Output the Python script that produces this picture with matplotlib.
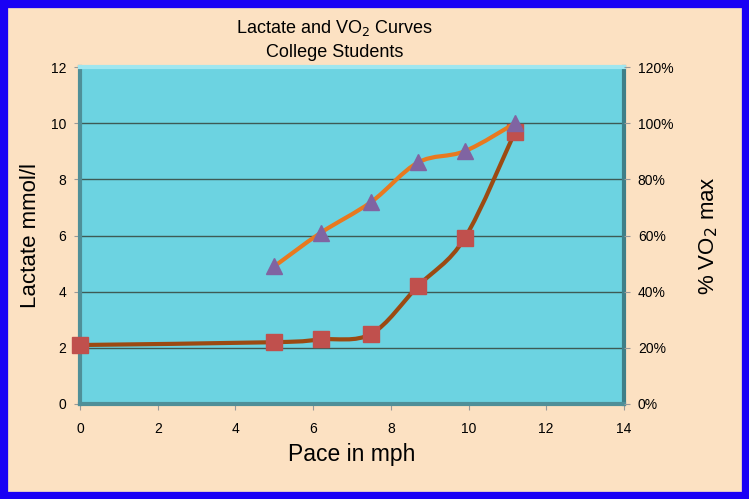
import matplotlib
matplotlib.use("Agg")
import matplotlib.pyplot as plt
from matplotlib.path import Path
from matplotlib.patches import PathPatch, Rectangle
from matplotlib.ticker import FuncFormatter, MultipleLocator

plt.rcParams['font.family'] = ['Liberation Sans', 'DejaVu Sans']

pace_lactate = [0, 5, 6.2, 7.5, 8.7, 9.9, 11.2]
lactate = [2.1, 2.2, 2.3, 2.5, 4.2, 5.9, 9.7]
pace_vo2 = [5, 6.2, 7.5, 8.7, 9.9, 11.2]
vo2_pct = [0.49, 0.61, 0.72, 0.86, 0.90, 1.00]

title = "Lactate and VO$_2$ Curves\nCollege Students"
xlabel = "Pace in mph"
ylabel_left = "Lactate mmol/l"
ylabel_right = "% VO$_2$ max"

BG = "#FCE1C2"
PLOT_BG = "#6CD3E1"
BORDER = "#1A00F5"
LAC_LINE = "#9C4A12"
LAC_MARK = "#C0504D"
VO2_LINE = "#E8791F"
VO2_MARK = "#8064A2"


def smooth_path(xs, ys):
    pts = list(zip(xs, ys))
    verts = [pts[0]]
    codes = [Path.MOVETO]
    n = len(pts)
    for i in range(n - 1):
        p0 = pts[i - 1] if i > 0 else pts[i]
        p1 = pts[i]
        p2 = pts[i + 1]
        p3 = pts[i + 2] if i + 2 < n else pts[i + 1]
        c1 = (p1[0] + (p2[0] - p0[0]) / 6.0, p1[1] + (p2[1] - p0[1]) / 6.0)
        c2 = (p2[0] - (p3[0] - p1[0]) / 6.0, p2[1] - (p3[1] - p1[1]) / 6.0)
        verts += [c1, c2, p2]
        codes += [Path.CURVE4] * 3
    return Path(verts, codes)


fig = plt.figure(figsize=(7.49, 4.99), dpi=100, facecolor=BG)
fig.patches.append(Rectangle((0, 0), 1, 1, transform=fig.transFigure,
                             fill=False, edgecolor=BORDER, linewidth=11, zorder=10))

ax = fig.add_axes([0.1068, 0.1904, 0.7262, 0.6753])
ax.set_facecolor(PLOT_BG)
ax.set_xlim(0, 14)
ax.set_ylim(0, 12)
ax.xaxis.set_major_locator(MultipleLocator(2))
ax.yaxis.set_major_locator(MultipleLocator(2))
ax.grid(axis='y', color='#3E5A55', linewidth=1.0)
ax.set_axisbelow(True)

for s in ['left', 'bottom']:
    ax.spines[s].set_color('#4F8F98')
    ax.spines[s].set_linewidth(3)
ax.spines['right'].set_color('#3F7F88')
ax.spines['right'].set_linewidth(3)
ax.spines['top'].set_color('#9FE6EF')
ax.spines['top'].set_linewidth(3)

ax.tick_params(axis='both', colors='#999999', labelcolor='black', labelsize=10,
               length=4, direction='out')
ax.tick_params(axis='x', pad=9)
ax.tick_params(axis='y', pad=6)

ax.add_patch(PathPatch(smooth_path(pace_lactate, lactate), fill=False,
                       edgecolor=LAC_LINE, linewidth=3, zorder=3, capstyle='round'))
ax.plot(pace_lactate, lactate, linestyle='none', marker='s', markersize=11,
        color=LAC_MARK, zorder=4, clip_on=False)

ax.set_xlabel(xlabel, fontsize=16.5, labelpad=5)
ax.set_ylabel(ylabel_left, fontsize=16, labelpad=7)

ax2 = ax.twinx()
ax2.set_ylim(0, 1.2)
ax2.yaxis.set_major_locator(MultipleLocator(0.2))
ax2.yaxis.set_major_formatter(FuncFormatter(lambda v, p: f"{v*100:.0f}%"))
ax2.tick_params(axis='y', colors='#999999', labelcolor='black', labelsize=10,
                length=4, direction='out', pad=6)
for s in ax2.spines.values():
    s.set_visible(False)
ax2.add_patch(PathPatch(smooth_path(pace_vo2, vo2_pct), fill=False,
                        edgecolor=VO2_LINE, linewidth=3, zorder=3, capstyle='round'))
ax2.plot(pace_vo2, vo2_pct, linestyle='none', marker='^', markersize=12,
         color=VO2_MARK, zorder=4, clip_on=False)
ax2.set_ylabel(ylabel_right, fontsize=16, labelpad=17)

fig.text(0.4466, 0.920, title, ha='center', va='center', fontsize=13,
         linespacing=1.45)

fig.savefig("out.png", dpi=100, facecolor=BG)
